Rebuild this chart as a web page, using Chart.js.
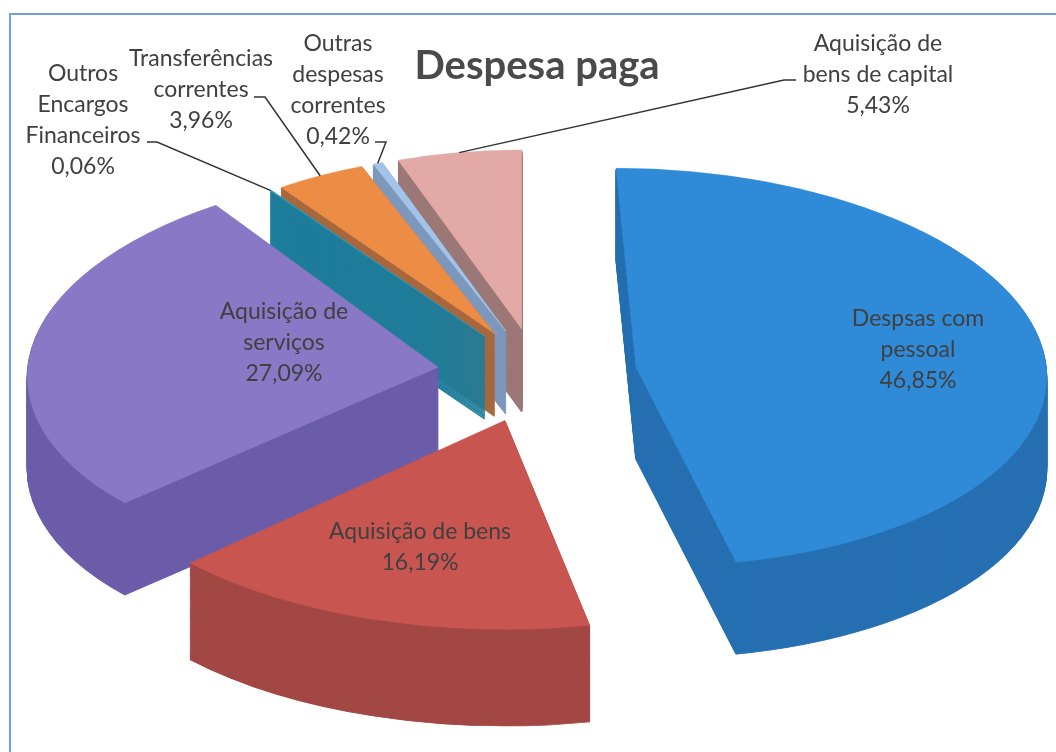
<!DOCTYPE html>
<html>
<head>
<meta charset="utf-8">
<script src="https://cdn.jsdelivr.net/npm/chart.js@4.4.0/dist/chart.umd.min.js"></script>
<style>
  html, body { margin: 0; padding: 0; background: #fff; }
  canvas { display: block; }
</style>
</head>
<body>
<canvas id="grafico" width="1056" height="752"></canvas>
<script>
// dados do gráfico
const categorias = [
  ['Despsas com', 'pessoal'],
  ['Aquisição de bens'],
  ['Aquisição de', 'serviços'],
  ['Outros', 'Encargos', 'Financeiros'],
  ['Transferências', 'correntes'],
  ['Outras', 'despesas', 'correntes'],
  ['Aquisição de', 'bens de capital']
];
const percentagens = [46.85, 16.19, 27.09, 0.06, 3.96, 0.42, 5.43];

// cores: face de cima e lados
const coresTopo = ['#2f8ad8', '#c8554f', '#8878c6', '#2a9bbd', '#ec8c45', '#a3c4e8', '#e3a9a6'];
const coresLado = ['#2670b2', '#a34845', '#6c5daa', '#1f7d9b', '#a8683e', '#7d98bd', '#9c7877'];

// "3D" a mão: centro no ecrã, inclinação, fatias destacadas e espessura
const CX = 537, CY = 372;
const INCLINACAO = 0.485;
const RAIO = 410;
const DESTAQUE = 100;
const ALTURA = 92;
const ORDEM = [6, 5, 4, 3, 0, 2, 1]; // de trás para a frente
// falsa perspetiva: fatias de trás menores, a da frente maior,
// e um pouco de inclinação lateral nas duas grandes
const PERSPETIVA = [1, 1.05, 1, 0.9, 0.9, 0.9, 0.9];
const CISALHAMENTO = [0.1, 0, -0.1, 0, 0, 0, 0];

// posição dos rótulos (x do centro, linha de base da 1a linha)
const posRotulos = [[918, 326], [420, 539], [284, 319], [83, 81], [201, 66], [338, 51], [878, 51]];
const ALTURA_LINHA = 31;
// linhas de chamada para as fatias pequenas
const chamadas = {
  3: [[147, 142], [157, 142]],
  4: [[254, 97], [265, 97]],
  5: [[375, 142], [386, 142]],
  6: [[796, 80], [784, 80]]
};

const formatar = v => v.toFixed(2).replace('.', ',') + '%';

function desvio(arc) {
  const meio = (arc.startAngle + arc.endAngle) / 2;
  return { meio, ex: Math.cos(meio) * DESTAQUE, ey: Math.sin(meio) * DESTAQUE };
}

const pizza3d = {
  id: 'pizza3d',
  beforeDatasetsDraw(chart) {
    const ctx = chart.ctx;
    const arcs = chart.getDatasetMeta(0).data;
    ORDEM.forEach(i => {
      const arc = arcs[i];
      const f = PERSPETIVA[i];
      const { ex, ey } = desvio(arc);
      const original = arc.options;
      const desenha = (k, cor, borda) => {
        arc.options = Object.assign({}, original, {
          backgroundColor: cor, borderColor: cor, borderWidth: borda, offset: 0
        });
        ctx.save();
        ctx.translate(CX, CY + k * f);
        ctx.transform(1, 0, CISALHAMENTO[i], 1, 0, 0);
        ctx.scale(f, f * INCLINACAO);
        ctx.translate(ex - arc.x, ey - arc.y);
        arc.draw(ctx);
        ctx.restore();
      };
      for (let k = ALTURA; k >= 1; k--) desenha(k, coresLado[i], 1.5);
      desenha(0, coresTopo[i], 0.8);
      arc.options = original;
    });
    return false; // o desenho normal fica cancelado
  },
  afterDraw(chart) {
    const ctx = chart.ctx;
    const arcs = chart.getDatasetMeta(0).data;

    // moldura
    ctx.save();
    ctx.strokeStyle = '#6fa3d8';
    ctx.lineWidth = 2;
    ctx.strokeRect(10, 14, 1100, 800);

    // linhas de chamada
    ctx.strokeStyle = '#333333';
    ctx.lineWidth = 1.5;
    Object.keys(chamadas).forEach(k => {
      const arc = arcs[k];
      const f = PERSPETIVA[k];
      const { meio, ex, ey } = desvio(arc);
      const py = f * INCLINACAO * (ey + Math.sin(meio) * RAIO);
      const px = f * (ex + Math.cos(meio) * RAIO) + CISALHAMENTO[k] * py;
      const pts = chamadas[k];
      ctx.beginPath();
      ctx.moveTo(pts[0][0], pts[0][1]);
      ctx.lineTo(pts[1][0], pts[1][1]);
      ctx.lineTo(CX + px, CY + py);
      ctx.stroke();
    });

    // rótulos
    ctx.fillStyle = '#404040';
    ctx.font = '23px Lato';
    ctx.textAlign = 'center';
    ctx.textBaseline = 'alphabetic';
    categorias.forEach((linhas, i) => {
      const [x, y] = posRotulos[i];
      linhas.concat([formatar(percentagens[i])]).forEach((t, j) => {
        ctx.fillText(t, x, y + j * ALTURA_LINHA);
      });
    });
    ctx.restore();
  }
};

new Chart(document.getElementById('grafico'), {
  type: 'pie',
  data: {
    labels: categorias,
    datasets: [{
      data: percentagens,
      backgroundColor: coresTopo,
      borderWidth: 0
    }]
  },
  options: {
    responsive: false,
    animation: false,
    events: [],
    radius: RAIO,
    layout: { padding: { left: 18 } },
    plugins: {
      legend: { display: false },
      tooltip: { enabled: false },
      title: {
        display: true,
        text: 'Despesa paga',
        color: '#4a4a4a',
        font: { family: 'Lato', size: 40, weight: 'bold' },
        padding: { top: 42, bottom: 0 }
      }
    }
  },
  plugins: [pizza3d]
});
</script>
</body>
</html>
